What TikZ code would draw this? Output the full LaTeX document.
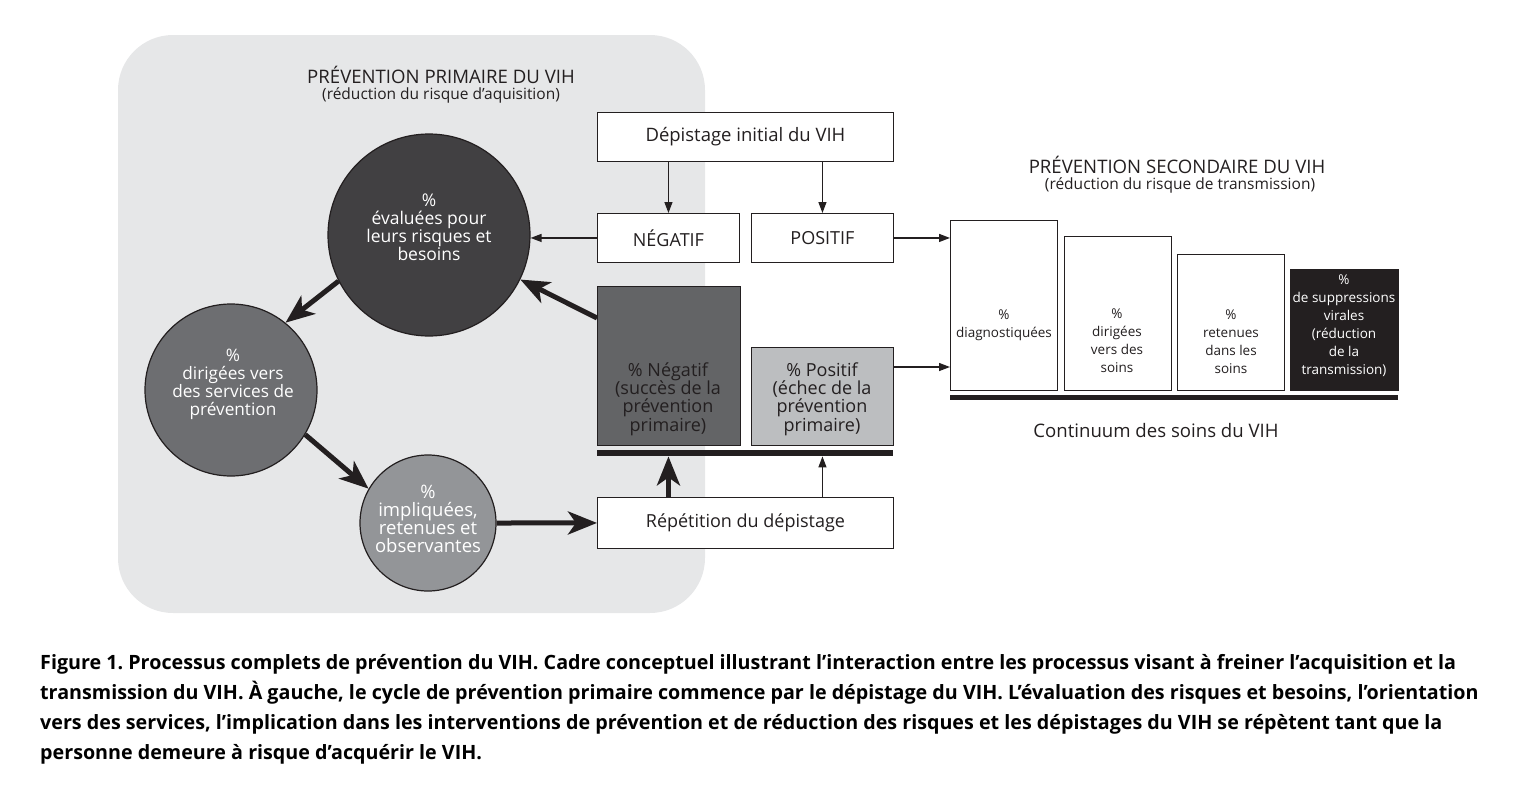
\documentclass[tikz,border=0pt]{standalone}
\usepackage{fontspec}
\setmainfont{Open Sans}
\usetikzlibrary{arrows.meta, positioning, shapes.geometric}
\frenchspacing
\definecolor{fond}{HTML}{E6E7E8}
\definecolor{encre}{HTML}{231F20}
\definecolor{grisA}{HTML}{414042}
\definecolor{grisB}{HTML}{6D6E71}
\definecolor{grisC}{HTML}{939598}
\definecolor{grisNeg}{HTML}{636466}
\definecolor{grisPos}{HTML}{BCBEC0}

\tikzset{
  boite/.style={draw=encre, line width=0.9pt, fill=white, anchor=north west,
    inner sep=0pt, text=encre, font=\fontsize{18}{20}\selectfont},
  colonne/.style={draw=encre, line width=0.9pt, fill=white, anchor=north west, inner sep=0pt},
  barre/.style={fill=encre, anchor=north west, inner sep=0pt},
  cercle/.style={circle, draw=encre, line width=1.2pt, inner sep=0pt},
  txtcercle/.style={text=white, align=center, inner sep=0pt},
  petit/.style={align=center, text=encre, font=\fontsize{13.5}{18}\selectfont},
  titre/.style={text=encre, font=\fontsize{18.6}{20}\selectfont},
  soustitre/.style={text=encre, font=\fontsize{15.5}{18}\selectfont},
  fin/.style={-{Triangle[length=11pt,width=8pt]}, line width=1.3pt, draw=encre},
  gros/.style={-{Stealth[length=29pt,width=23pt,inset=8pt]}, line width=5pt, draw=encre}
}

\begin{document}
\begin{tikzpicture}[x=1pt, y=-1pt]
    \useasboundingbox (0,0) rectangle (1518,798);

    % fond de la prevention primaire
    \fill[fond, rounded corners=55pt] (118,35) rectangle (705,613);
    \node[titre] (titreP) at (441,75) {PRÉVENTION PRIMAIRE DU VIH};
    \node[soustitre] (sousP) at (441,95) {(réduction du risque d’aquisition)};

    % depistages
    \node[boite, font=\fontsize{18.5}{20}\selectfont, minimum width=296pt, minimum height=49pt] (depinit) at (597,112) {Dépistage initial du VIH};
    \node[boite, minimum width=142pt, minimum height=49pt] (neg) at (597,213) {NÉGATIF};
    \node[boite, minimum width=142pt, minimum height=49pt] (pos) at (751,213) {POSITIF};
    \node[boite, minimum width=296pt, minimum height=51pt] (rep) at (597,497) {Répétition du dépistage};

    % resultats
    \node[boite, fill=grisNeg, minimum width=143pt, minimum height=159pt] (pctneg) at (597,286) {};
    \node[boite, fill=grisPos, minimum width=142pt, minimum height=98pt] (pctpos) at (751,347) {};
    \node[barre, minimum width=296pt, minimum height=6pt] (barre1) at (597,450) {};
    \node[align=center, text=encre, font=\fontsize{18}{18.3}\selectfont] (txtneg) at (668,399)
        {\% Négatif\\(succès de la\\prévention\\primaire)};
    \node[align=center, text=encre, font=\fontsize{18}{18.3}\selectfont] (txtpos) at (822,399)
        {\% Positif\\(échec de la\\prévention\\primaire)};

    % cycle
    \node[cercle, fill=grisA, minimum size=202pt] (c1) at (429,235) {};
    \node[cercle, fill=grisB, minimum size=172pt] (c2) at (231,390) {};
    \node[cercle, fill=grisC, minimum size=136pt] (c3) at (428,523) {};
    \node[txtcercle, font=\fontsize{17.5}{18}\selectfont] (txtc1) at (429,227)
        {\%\\évaluées pour\\leurs risques et\\besoins};
    \node[txtcercle, font=\fontsize{17.2}{18}\selectfont] (txtc2) at (233,384)
        {\%\\dirigées vers\\des services de\\prévention};
    \node[txtcercle, font=\fontsize{18.5}{18}\selectfont] (txtc3) at (428,519)
        {\%\\impliquées,\\retenues et\\observantes};

    % continuum des soins
    \node[titre] (titreS) at (1177,165) {PRÉVENTION SECONDAIRE DU VIH};
    \node[soustitre] (sousS) at (1180,185) {(réduction du risque de transmission)};
    \node[colonne, minimum width=107pt, minimum height=170pt] (diag) at (950,220) {};
    \node[colonne, minimum width=107pt, minimum height=154pt] (dirig) at (1064,236) {};
    \node[colonne, minimum width=107pt, minimum height=136pt] (reten) at (1177,254) {};
    \node[colonne, fill=encre, minimum width=108pt, minimum height=121pt] (supp) at (1290,269) {};
    \node[barre, minimum width=448pt, minimum height=5pt] (barre2) at (950,395) {};
    \node[petit] (txtdiag) at (1004,325) {\%\\diagnostiquées};
    \node[petit] (txtdirig) at (1117,341) {\%\\dirigées\\vers des\\soins};
    \node[petit] (txtreten) at (1231,342) {\%\\retenues\\dans les\\soins};
    \node[petit, text=white] (txtsupp) at (1344,326) {\%\\de suppressions\\virales\\(réduction\\de la\\transmission)};
    \node[titre] (contin) at (1156,431) {Continuum des soins du VIH};

    % fleches fines
    \draw[fin] (depinit.south -| neg) -- (neg.north);
    \draw[fin] (depinit.south -| pos) -- (pos.north);
    \draw[fin] (neg.west) -- (neg.west -| c1.east);
    \draw[fin] (pos.east) -- (pos.east -| diag.west);
    \coordinate (sortiepos) at ([yshift=-20pt]pctpos.north east);
    \draw[fin] (sortiepos) -- (sortiepos -| diag.west);
    \draw[fin] (rep.north -| pos) -- (barre1.south -| pos);

    % fleches epaisses
    \draw[gros] ([yshift=-32pt]pctneg.north west) -- (c1.-26);
    \draw[gros] (c1.207) -- (c2.51);
    \draw[gros] (c2.-31) -- (c3.150);
    \draw[gros] (c3.east) -- (rep.west);
    \draw[gros] (rep.north -| neg) -- (barre1.south -| neg);

    % legende
    \node[anchor=north west, align=left, inner sep=0pt, text=black,
          font=\bfseries\fontsize{19.7}{30}\selectfont] (legende) at (40,654)
        {Figure 1. Processus complets de prévention du VIH. Cadre conceptuel illustrant l’interaction entre les processus visant à freiner l’acquisition et la\\
         transmission du VIH. À gauche, le cycle de prévention primaire commence par le dépistage du VIH. L’évaluation des risques et besoins, l’orientation\\
         vers des services, l’implication dans les interventions de prévention et de réduction des risques et les dépistages du VIH se répètent tant que la\\
         personne demeure à risque d’acquérir le VIH.};
\end{tikzpicture}
\end{document}
